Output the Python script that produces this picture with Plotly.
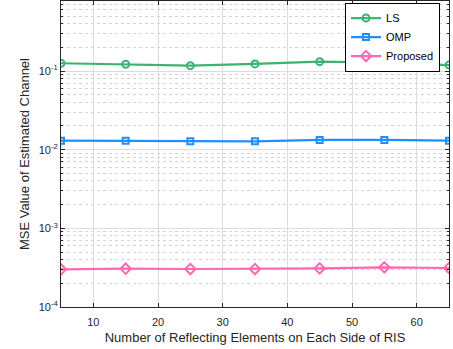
import plotly.graph_objects as go

# Number of reflecting elements on each side of the RIS
elements = [5, 15, 25, 35, 45, 55, 65]

# MSE of the estimated channel for each estimator
mse_ls = [0.1255, 0.122, 0.117, 0.123, 0.1316, 0.1278, 0.119]
mse_omp = [0.0130, 0.0130, 0.01277, 0.01277, 0.0133, 0.0133, 0.0130]
mse_proposed = [0.000301, 0.000307, 0.000304, 0.000304, 0.000309, 0.000319, 0.000313]

x_ticks = [10, 20, 30, 40, 50, 60]
y_ticks = [1e-4, 1e-3, 1e-2, 1e-1]
y_ticktext = ["10<sup>-4</sup>", "10<sup>-3</sup>", "10<sup>-2</sup>", "10<sup>-1</sup>"]
y_minor = [m * 10 ** e for e in (-4, -3, -2, -1) for m in range(2, 10)]

FONT = "Liberation Sans, Arial, Helvetica, sans-serif"
AX = "#262626"

series = [
    ("LS", mse_ls, "#3cb371", "circle-open", 7),
    ("OMP", mse_omp, "#1e90ff", "square-open", 6),
    ("Proposed", mse_proposed, "#ff69b4", "diamond-open", 8),
]

fig = go.Figure()
for name, vals, color, symbol, size in series:
    fig.add_trace(go.Scatter(
        x=elements, y=vals, name=name, mode="lines+markers",
        line=dict(color=color, width=2.2),
        marker=dict(symbol=symbol, size=size, color=color,
                    line=dict(color=color, width=2)),
    ))

fig.update_layout(
    width=453, height=349,
    margin=dict(l=61, r=4, t=1, b=42),
    paper_bgcolor="white", plot_bgcolor="white",
    font=dict(family=FONT, size=11, color=AX),
    showlegend=True,
    legend=dict(
        x=0.732, y=0.995, xanchor="left", yanchor="top",
        bgcolor="white", bordercolor="#000000", borderwidth=1,
        font=dict(family=FONT, size=11, color="#000000"),
        tracegroupgap=0, itemwidth=30,
    ),
)

fig.update_xaxes(
    range=[5, 65], tickvals=x_ticks,
    showline=True, linecolor=AX, linewidth=1, mirror="ticks",
    ticks="inside", ticklen=4, tickcolor=AX,
    showgrid=True, gridcolor="#dcdcdc", gridwidth=1,
    zeroline=False, ticklabelstandoff=5,
    tickfont=dict(family=FONT, size=11, color=AX),
    title=dict(text="Number of Reflecting Elements on Each Side of RIS",
               font=dict(family=FONT, size=13, color=AX), standoff=5),
)

fig.update_yaxes(
    type="log", range=[-4, -0.11],
    tickvals=y_ticks, ticktext=y_ticktext,
    showline=True, linecolor=AX, linewidth=1, mirror="ticks",
    ticks="inside", ticklen=4, tickcolor=AX,
    showgrid=True, gridcolor="#dcdcdc", gridwidth=1,
    zeroline=False,
    minor=dict(tickvals=y_minor, ticks="inside", ticklen=2, tickcolor=AX,
               showgrid=True, gridcolor="#d4d4d4", griddash="dot", gridwidth=1),
    tickfont=dict(family=FONT, size=11, color=AX),
    title=dict(text="MSE Value of Estimated Channel",
               font=dict(family=FONT, size=13, color=AX), standoff=6),
)

fig.write_html("out.html")
